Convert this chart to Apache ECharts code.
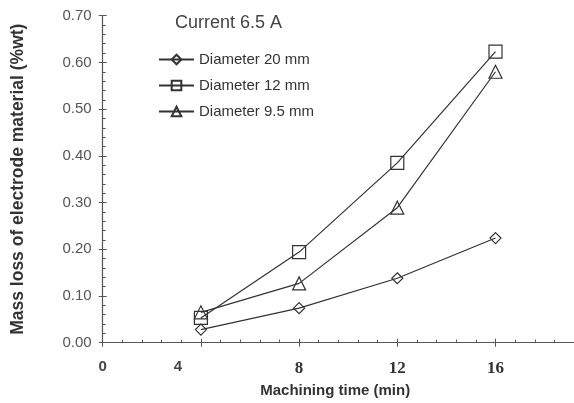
<!DOCTYPE html>
<html>
<head>
<meta charset="utf-8">
<script src="https://cdn.jsdelivr.net/npm/echarts@6/dist/echarts.min.js"></script>
<style>
html, body { margin: 0; padding: 0; background: #fff; }
#chart { width: 574px; height: 403px; }
</style>
</head>
<body>
<div id="chart"></div>
<script>
// machining time (min)
var times = [4, 8, 12, 16];
// mass loss (%wt) per electrode diameter
var dia20 = [0.028, 0.074, 0.138, 0.224];
var dia12 = [0.053, 0.194, 0.385, 0.623];
var dia95 = [0.065, 0.127, 0.289, 0.580];
var seriesNames = ['Diameter 20 mm', 'Diameter 12 mm', 'Diameter 9.5 mm'];
var xTickLabels = ['0', '4', '8', '12', '16'];
var yTickLabels = ['0.00', '0.10', '0.20', '0.30', '0.40', '0.50', '0.60', '0.70'];

var ink = '#333';
var axisCol = '#555';

function pairs(vals) {
    return times.map(function (t, i) { return [t, vals[i]]; });
}

function makeSeries(name, vals, symbol, size) {
    return {
        name: name,
        type: 'line',
        xAxisIndex: 0,
        yAxisIndex: 0,
        data: pairs(vals),
        symbol: symbol,
        symbolSize: size,
        lineStyle: { color: ink, width: 1.2 },
        itemStyle: { color: 'rgba(255,255,255,0)', borderColor: ink, borderWidth: 1.2 },
        emphasis: { disabled: true }
    };
}

var chart = echarts.init(document.getElementById('chart'));

var option = {
    animation: false,
    title: {
        text: 'Current 6.5 A',
        left: 175,
        top: 14,
        padding: 0,
        textStyle: { fontFamily: 'Liberation Sans', fontSize: 18, fontWeight: 'normal', color: '#444' }
    },
    legend: {
        orient: 'vertical',
        left: 158,
        top: 52,
        padding: 0,
        itemWidth: 35,
        itemHeight: 12,
        itemGap: 11,
        data: seriesNames,
        textStyle: { fontFamily: 'Liberation Sans', fontSize: 15, color: ink }
    },
    grid: {
        left: 102.7,
        right: -19.7,
        top: 15.7,
        bottom: 60.3,
        outerBoundsMode: 'none',
        containLabel: false
    },
    xAxis: [{
        type: 'value',
        min: 0,
        max: 20,
        interval: 4,
        position: 'bottom',
        axisLine: { lineStyle: { color: axisCol, width: 1.2 } },
        axisTick: { show: true, inside: false, length: 4, lineStyle: { color: axisCol } },
        splitLine: { show: false },
        axisLabel: {
            margin: 17,
            showMaxLabel: false,
            formatter: function (v) {
                var s = xTickLabels[v / 4];
                if (s === undefined) return '';
                if (v === 0) return '{a|' + s + '}';
                if (v === 4) return '{b|' + s + '}';
                return '{c|' + s + '}';
            },
            rich: {
                a: { fontFamily: 'Liberation Sans', fontSize: 15, fontWeight: 'bold', color: '#444' },
                b: { fontFamily: 'Liberation Sans', fontSize: 15, fontWeight: 'bold', color: '#444', padding: [0, 46, 0, 0] },
                c: { fontFamily: 'Liberation Serif', fontSize: 17, fontWeight: 'bold', color: ink }
            }
        },
        name: 'Machining time (min)',
        nameLocation: 'middle',
        nameGap: 41,
        nameTextStyle: {
            fontFamily: 'Liberation Sans', fontSize: 15, fontWeight: 'bold', color: ink,
            padding: [0, 26, 0, 0]
        }
    }, {
        type: 'value',
        min: 0,
        max: 20,
        interval: 4,
        position: 'bottom',
        axisLine: { show: false },
        axisTick: { show: true, inside: true, length: 4, lineStyle: { color: axisCol } },
        minorTick: { show: true, splitNumber: 5, length: 3, lineStyle: { color: axisCol } },
        axisLabel: { show: false },
        splitLine: { show: false }
    }],
    yAxis: [{
        type: 'value',
        min: 0,
        max: 0.7,
        interval: 0.1,
        position: 'left',
        axisLine: { show: true, lineStyle: { color: axisCol, width: 1.2 } },
        axisTick: { show: true, inside: false, length: 4, lineStyle: { color: axisCol } },
        splitLine: { show: false },
        axisLabel: {
            margin: 11,
            fontFamily: 'Liberation Sans',
            fontSize: 15,
            color: axisCol,
            formatter: function (v) {
                var i = Math.round(v * 10);
                return yTickLabels[i] || '';
            }
        },
        name: 'Mass loss of electrode material (%wt)',
        nameLocation: 'middle',
        nameGap: 76,
        nameTextStyle: { fontFamily: 'Liberation Sans', fontSize: 17.5, fontWeight: 'bold', color: ink }
    }, {
        type: 'value',
        min: 0,
        max: 0.7,
        interval: 0.1,
        position: 'left',
        axisLine: { show: false },
        axisTick: { show: true, inside: true, length: 4, lineStyle: { color: axisCol } },
        minorTick: { show: true, splitNumber: 5, length: 3, lineStyle: { color: axisCol } },
        axisLabel: { show: false },
        splitLine: { show: false }
    }],
    series: [
        makeSeries(seriesNames[0], dia20, 'diamond', 11),
        makeSeries(seriesNames[1], dia12, 'rect', 13),
        makeSeries(seriesNames[2], dia95, 'triangle', 13)
    ]
};

chart.setOption(option);
</script>
</body>
</html>
